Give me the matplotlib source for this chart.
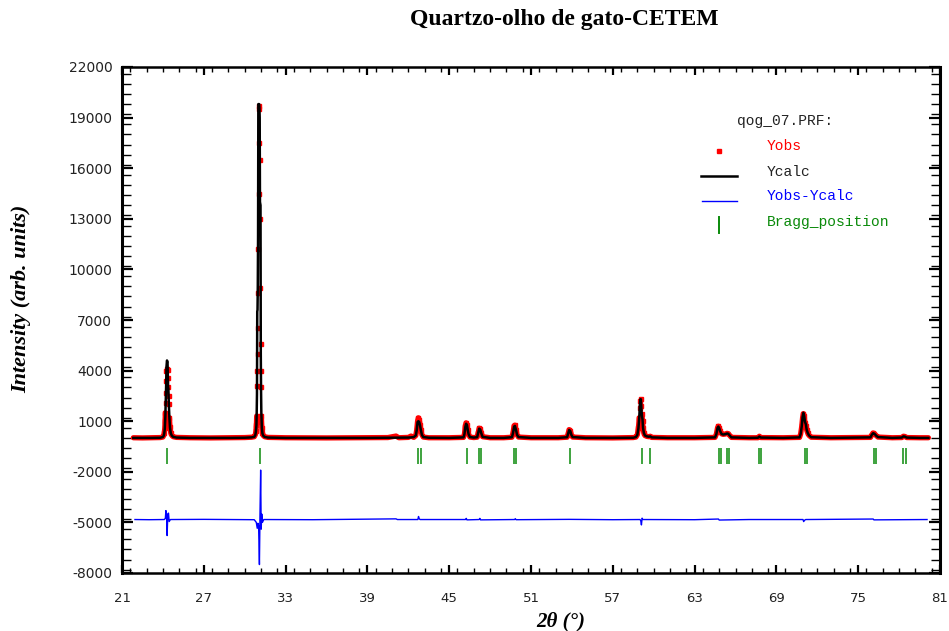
import numpy as np
import matplotlib
matplotlib.use("Agg")
import matplotlib.pyplot as plt
from matplotlib.lines import Line2D
from matplotlib.ticker import MultipleLocator

# ---------------- data ----------------
x_obs = [21.83, 22.50, 23.20, 23.80, 24.00, 24.06, 24.10, 24.14, 24.16, 24.18, 24.20, 24.22,
         24.24, 24.26, 24.30, 24.34, 24.38, 24.40, 24.42, 24.44, 24.48, 24.52, 24.58, 24.66,
         24.76, 25.00, 26.00, 27.50, 29.00, 30.00, 30.50, 30.70, 30.78, 30.82, 30.86, 30.88,
         30.90, 30.92, 30.94, 30.96, 30.98, 31.00, 31.02, 31.04, 31.06, 31.08, 31.10, 31.12,
         31.14, 31.16, 31.18, 31.20, 31.22, 31.26, 31.30, 31.36, 31.46, 31.70, 33.00, 36.00,
         39.00, 40.50, 41.10, 41.30, 42.00, 42.20, 42.40, 42.55, 42.62, 42.68, 42.74, 42.80,
         42.86, 42.92, 43.00, 43.10, 43.50, 45.00, 46.05, 46.12, 46.18, 46.24, 46.30, 46.36,
         46.42, 46.52, 46.80, 47.05, 47.12, 47.20, 47.28, 47.35, 47.45, 48.00, 49.00, 49.60,
         49.68, 49.76, 49.82, 49.90, 49.98, 50.08, 51.00, 53.00, 53.65, 53.72, 53.80, 53.88,
         53.96, 54.05, 55.00, 57.00, 58.50, 58.70, 58.80, 58.88, 58.94, 58.98, 59.02, 59.06,
         59.10, 59.14, 59.18, 59.22, 59.28, 59.36, 59.50, 59.65, 59.75, 59.85, 61.00, 63.00,
         64.50, 64.60, 64.68, 64.74, 64.80, 64.88, 64.98, 65.10, 65.25, 65.38, 65.48, 65.58,
         65.70, 67.00, 67.65, 67.75, 67.85, 69.50, 70.70, 70.78, 70.86, 70.92, 70.98, 71.04,
         71.10, 71.16, 71.22, 71.30, 71.40, 71.55, 73.00, 75.90, 76.00, 76.10, 76.20, 76.32,
         76.45, 77.50, 78.20, 78.32, 78.44, 78.55, 79.50, 80.15]

y_obs = [20, 10, 20, 30, 60, 150, 300, 600, 1000, 1500, 2100, 2700,
         3400, 4000, 4100, 4050, 3550, 3000, 2500, 2000, 1200, 650, 300, 150,
         80, 40, 20, 10, 20, 30, 50, 80, 200, 400, 800, 1300,
         3100, 4000, 5000, 6500, 8600, 11200, 14500, 17500, 19700, 19500, 16500, 13000,
         8900, 5600, 4000, 3000, 1300, 600, 300, 150, 80, 40, 20, 10,
         20, 30, 120, 20, 40, 120, 40, 150, 500, 1000, 1200, 1100,
         800, 500, 200, 60, 20, 20, 40, 250, 700, 900, 800, 500,
         250, 60, 30, 50, 300, 580, 520, 300, 80, 20, 20, 50,
         300, 720, 760, 500, 200, 60, 20, 20, 50, 250, 500, 430,
         200, 60, 20, 10, 30, 60, 200, 600, 1200, 1800, 2200, 2300,
         1900, 1400, 1000, 600, 300, 150, 100, 80, 110, 40, 20, 20,
         40, 250, 600, 700, 620, 400, 250, 220, 240, 280, 260, 150,
         40, 20, 20, 110, 30, 20, 40, 250, 700, 1200, 1450, 1300,
         900, 700, 500, 300, 150, 50, 20, 40, 200, 300, 260, 150,
         60, 20, 30, 110, 90, 30, 20, 20]

y_calc = [10, 10, 10, 20, 60, 140, 280, 560, 900, 1300, 1900, 2400,
          3200, 4200, 4600, 4500, 3000, 2950, 2400, 1900, 1150, 620, 280, 140,
          70, 30, 10, 10, 10, 20, 40, 70, 180, 380, 750, 1500,
          2600, 7500, 7600, 9000, 12000, 19800, 19800, 19800, 19800, 19600, 19000, 14000,
          13900, 13800, 5000, 2800, 1500, 600, 280, 140, 70, 30, 10, 10,
          10, 20, 30, 20, 30, 40, 60, 150, 480, 950, 1000, 950,
          750, 480, 190, 60, 20, 10, 40, 240, 650, 850, 780, 480,
          240, 60, 30, 50, 290, 560, 500, 290, 70, 10, 10, 50,
          290, 680, 720, 480, 190, 60, 10, 10, 50, 240, 480, 420,
          190, 60, 10, 10, 20, 60, 190, 580, 1200, 1900, 2300, 2300,
          1700, 1300, 1100, 600, 300, 150, 100, 80, 100, 40, 10, 10,
          40, 240, 600, 680, 600, 400, 240, 210, 230, 270, 250, 140,
          40, 10, 20, 90, 30, 10, 40, 250, 700, 1250, 1500, 1300,
          950, 820, 500, 300, 150, 50, 10, 40, 200, 290, 250, 140,
          60, 10, 30, 100, 80, 30, 10, 10]

x_diff = [21.95, 23.00, 24.10, 24.18, 24.22, 24.27, 24.31, 24.36, 24.41, 24.46, 24.55,
          27.00, 30.70, 30.85, 30.92, 30.97, 31.02, 31.08, 31.12, 31.17, 31.21, 31.25,
          31.30, 31.40, 35.00, 41.10, 41.20, 42.70, 42.75, 42.80, 42.86, 46.20, 46.25,
          46.30, 47.20, 47.25, 47.30, 49.80, 49.85, 49.90, 53.80, 57.00, 59.00, 59.05,
          59.10, 59.15, 59.20, 63.00, 64.75, 64.80, 67.00, 70.95, 71.00, 71.05, 71.15,
          76.10, 76.15, 80.05]
y_diff = [-4830, -4840, -4830, -4760, -4300, -4650, -5780, -4500, -4450, -4950, -4830,
          -4820, -4840, -5000, -5350, -5050, -5200, -7500, -4600, -1900, -5400, -4500,
          -5000, -4830, -4840, -4790, -4830, -4830, -4650, -4780, -4830, -4830, -4760,
          -4850, -4830, -4760, -4850, -4830, -4780, -4840, -4820, -4840, -4830, -4900,
          -5150, -4750, -4830, -4840, -4800, -4860, -4830, -4830, -4950, -4880, -4830,
          -4800, -4850, -4830]

bragg_pos = [24.32, 31.12, 42.73, 42.91, 46.28, 47.19, 47.33, 49.78, 49.92, 53.86,
             59.12, 59.73, 64.81, 64.94, 65.35, 65.52, 67.75, 67.89, 71.08, 71.22,
             76.16, 76.33, 78.31, 78.51]
bragg_level = -1080

x_ticks = [21, 27, 33, 39, 45, 51, 57, 63, 69, 75, 81]
y_ticks = [-8000, -5000, -2000, 1000, 4000, 7000, 10000, 13000, 16000, 19000, 22000]

# ---------------- figure ----------------
W, H = 949, 631
fig = plt.figure(figsize=(W / 100, H / 100), dpi=100)
ax = fig.add_axes([122 / W, 1 - 573 / H, (940 - 122) / W, (573 - 67) / H])

RED, BLUE, GREEN = "#ff0000", "#0000ff", "#0a8a0a"

xo = np.array(x_obs, dtype=float)
yo = np.array(y_obs, dtype=float)
yo_band = np.ma.masked_where(yo > 1500, yo)
yo_dots = np.ma.masked_where(yo < 300, yo)
ax.plot(xo, yo_band, color=RED, lw=3.8, solid_capstyle="round", zorder=2)
ax.plot(xo, yo_dots, ls="none", marker="s", ms=3.4, mec=RED, mfc=RED, zorder=2)
ax.plot(x_obs, y_calc, color="black", lw=1.8, zorder=3)
ax.plot(x_diff, y_diff, color=BLUE, lw=1.0, zorder=3)
ax.plot(bragg_pos, [bragg_level] * len(bragg_pos), ls="none", marker="|",
        ms=12, mew=1.1, color=GREEN, zorder=3)

ax.set_xlim(21, 81)
ax.set_ylim(-8000, 22000)
ax.set_xticks(x_ticks)
ax.set_yticks(y_ticks)
ax.set_xticklabels([str(v) for v in x_ticks], fontsize=9.5, family="DejaVu Sans")
ax.set_yticklabels([str(v) for v in y_ticks], fontsize=10, family="DejaVu Sans")
ax.xaxis.set_minor_locator(MultipleLocator(1.2))
ax.yaxis.set_minor_locator(MultipleLocator(600))
ax.tick_params(axis="x", which="major", direction="in", length=6, width=1.6,
               top=True, pad=14, colors="black", labelcolor="#222222")
ax.tick_params(axis="x", which="minor", direction="in", length=3.5, width=1.0, top=True)
ax.tick_params(axis="y", which="major", direction="in", length=8, width=1.6,
               right=True, pad=7, labelcolor="#222222")
ax.tick_params(axis="y", which="minor", direction="in", length=6.5, width=1.0, right=True)
for side in ["left", "right"]:
    ax.spines[side].set_linewidth(2.2)
for side in ["top", "bottom"]:
    ax.spines[side].set_linewidth(1.8)

# titles and labels
fig.text(564 / W, 1 - 20 / H, "Quartzo-olho de gato-CETEM", ha="center", va="center",
         family="Liberation Serif", weight="bold", fontsize=17)
fig.text(21 / W, 1 - 299 / H, "Intensity (arb. units)", rotation=90, ha="center",
         va="center", family="Liberation Serif", weight="bold", style="italic", fontsize=16)
fig.text(561 / W, 1 - 621 / H, "2\u03b8 (\u00b0)", ha="center", va="center",
         family="Liberation Serif", weight="bold", style="italic", fontsize=15)

# legend block
mono = dict(family="Liberation Mono", fontsize=10.5, va="center", ha="left")
fig.text(737 / W, 1 - 121.5 / H, "qog_07.PRF:", color="#222222", **mono)
fig.text(767 / W, 1 - 145.5 / H, "Yobs", color=RED, **mono)
fig.text(767 / W, 1 - 171.5 / H, "Ycalc", color="#222222", **mono)
fig.text(767 / W, 1 - 196.5 / H, "Yobs-Ycalc", color=BLUE, **mono)
fig.text(767 / W, 1 - 222 / H, "Bragg_position", color=GREEN, **mono)
fig.add_artist(Line2D([719 / W], [1 - 150.7 / H], ls="none", marker="s", ms=3.4,
                      color=RED, transform=fig.transFigure))
fig.add_artist(Line2D([701 / W, 737 / W], [1 - 175.7 / H] * 2, color="black", lw=1.8,
                      transform=fig.transFigure))
fig.add_artist(Line2D([702 / W, 737 / W], [1 - 200.7 / H] * 2, color=BLUE, lw=1.0,
                      transform=fig.transFigure))
fig.add_artist(Line2D([719 / W, 719 / W], [1 - 217 / H, 1 - 233 / H], color=GREEN, lw=1.4,
                      transform=fig.transFigure))

fig.savefig("out.png", dpi=100)
